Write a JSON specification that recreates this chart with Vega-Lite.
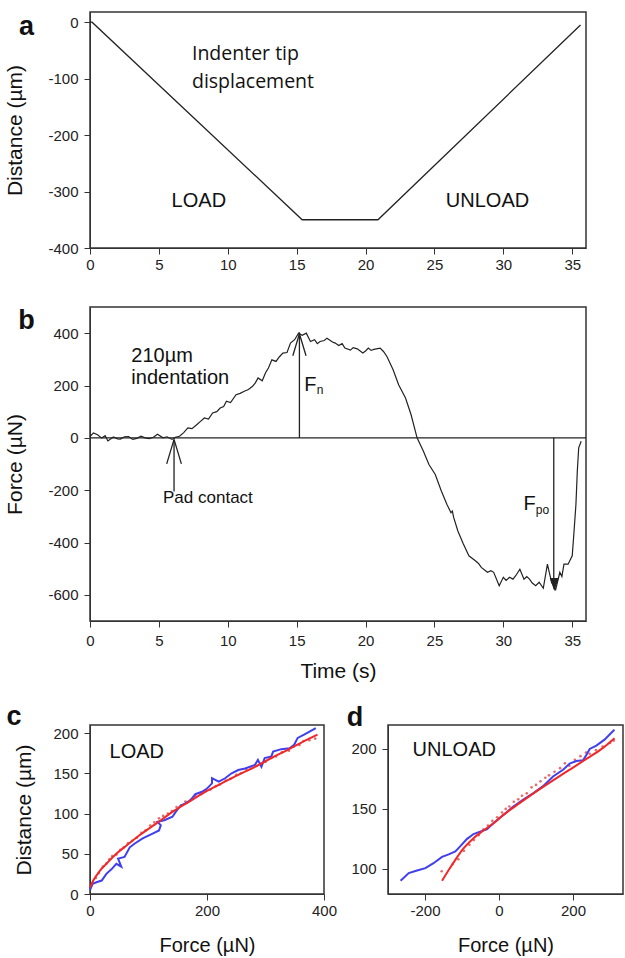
{
  "$schema": "https://vega.github.io/schema/vega-lite/v6.json",
  "background": "white",
  "padding": {"left": 4, "top": 11, "right": 0, "bottom": 0},
  "spacing": 20,
  "vconcat": [
    {
      "spacing": 33,
      "vconcat": [
        {
          "width": 496,
          "height": 236,
          "layer": [
            {
              "data": {"values": [
                {"t": 0, "d": 0}, {"t": 0.15, "d": 0}, {"t": 15.4, "d": -350}, {"t": 20.9, "d": -350}, {"t": 35.6, "d": -5}
              ]},
              "mark": {"type": "line", "color": "#222", "strokeWidth": 1.3},
              "encoding": {
                "x": {"field": "t", "type": "quantitative", "scale": {"domain": [0, 36], "nice": false, "zero": false},
                      "axis": {"values": [0, 5, 10, 15, 20, 25, 30, 35], "title": null, "labelFlush": false, "labelPadding": 3}},
                "y": {"field": "d", "type": "quantitative", "scale": {"domain": [-400, 18], "nice": false, "zero": false},
                      "axis": {"values": [0, -100, -200, -300, -400], "title": "Distance (µm)", "titlePadding": 22}}
              }
            },
            {
              "data": {"values": [{}]},
              "mark": {"type": "text", "align": "left", "baseline": "middle", "fontSize": 19.5, "color": "#111", "font": "Open Sans"},
              "encoding": {"x": {"datum": 7.4}, "y": {"datum": -56}, "text": {"value": "Indenter tip"}}
            },
            {
              "data": {"values": [{}]},
              "mark": {"type": "text", "align": "left", "baseline": "middle", "fontSize": 19.5, "color": "#111", "font": "Open Sans"},
              "encoding": {"x": {"datum": 7.4}, "y": {"datum": -106}, "text": {"value": "displacement"}}
            },
            {
              "data": {"values": [{}]},
              "mark": {"type": "text", "align": "center", "baseline": "middle", "fontSize": 20, "color": "#111", "font": "Liberation Sans"},
              "encoding": {"x": {"datum": 7.9}, "y": {"datum": -316}, "text": {"value": "LOAD"}}
            },
            {
              "data": {"values": [{}]},
              "mark": {"type": "text", "align": "center", "baseline": "middle", "fontSize": 20, "color": "#111", "font": "Liberation Sans"},
              "encoding": {"x": {"datum": 28.85}, "y": {"datum": -316}, "text": {"value": "UNLOAD"}}
            },
            {
              "data": {"values": [{}]},
              "mark": {"type": "text", "align": "center", "baseline": "middle", "fontSize": 27, "fontWeight": "bold", "color": "#111", "font": "Liberation Sans"},
              "encoding": {"x": {"datum": -4.6}, "y": {"datum": -9}, "text": {"value": "a"}}
            }
          ]
        },
        {
          "width": 496,
          "height": 314,
          "layer": [
            {
              "data": {"values": [
                {"t": 0, "f": 5}, {"t": 0.25, "f": 19}, {"t": 0.55, "f": 12}, {"t": 0.85, "f": -1}, {"t": 1.1, "f": 8}, {"t": 1.3, "f": -12},
                {"t": 1.7, "f": 3}, {"t": 2.0, "f": -4}, {"t": 2.2, "f": -5}, {"t": 2.5, "f": 4}, {"t": 2.8, "f": 5}, {"t": 3.1, "f": -6},
                {"t": 3.4, "f": -2}, {"t": 3.7, "f": 6}, {"t": 4.0, "f": 0}, {"t": 4.3, "f": -3}, {"t": 4.6, "f": 2}, {"t": 4.9, "f": 14},
                {"t": 5.3, "f": 0}, {"t": 5.6, "f": 4}, {"t": 5.95, "f": -6}, {"t": 6.2, "f": 2}, {"t": 6.5, "f": 6}, {"t": 6.8, "f": 20},
                {"t": 7.1, "f": 38}, {"t": 7.4, "f": 35}, {"t": 7.7, "f": 48}, {"t": 8.0, "f": 62}, {"t": 8.3, "f": 76}, {"t": 8.6, "f": 72},
                {"t": 8.9, "f": 95}, {"t": 9.2, "f": 100}, {"t": 9.45, "f": 114}, {"t": 9.7, "f": 120}, {"t": 9.9, "f": 140}, {"t": 10.2, "f": 135},
                {"t": 10.6, "f": 165}, {"t": 10.9, "f": 170}, {"t": 11.2, "f": 178}, {"t": 11.5, "f": 185}, {"t": 11.8, "f": 197}, {"t": 12.0, "f": 210},
                {"t": 12.2, "f": 229}, {"t": 12.5, "f": 218}, {"t": 12.75, "f": 250}, {"t": 12.95, "f": 267}, {"t": 13.2, "f": 298}, {"t": 13.5, "f": 292},
                {"t": 13.75, "f": 310}, {"t": 14.0, "f": 324}, {"t": 14.3, "f": 326}, {"t": 14.55, "f": 362}, {"t": 14.85, "f": 375}, {"t": 15.14, "f": 400},
                {"t": 15.4, "f": 392}, {"t": 15.7, "f": 400}, {"t": 16.0, "f": 368}, {"t": 16.3, "f": 375}, {"t": 16.5, "f": 360}, {"t": 16.7, "f": 368},
                {"t": 17.0, "f": 372}, {"t": 17.2, "f": 381}, {"t": 17.6, "f": 366}, {"t": 17.8, "f": 362}, {"t": 18.05, "f": 353}, {"t": 18.3, "f": 360},
                {"t": 18.5, "f": 343}, {"t": 18.9, "f": 335}, {"t": 19.1, "f": 345}, {"t": 19.4, "f": 340}, {"t": 19.8, "f": 324}, {"t": 20.0, "f": 332},
                {"t": 20.2, "f": 343}, {"t": 20.4, "f": 334}, {"t": 20.6, "f": 338}, {"t": 21.06, "f": 343}, {"t": 21.3, "f": 330}, {"t": 21.55, "f": 311},
                {"t": 22.0, "f": 260}, {"t": 22.4, "f": 203}, {"t": 22.9, "f": 152}, {"t": 23.3, "f": 89}, {"t": 23.74, "f": 0}, {"t": 24.2, "f": -51},
                {"t": 24.6, "f": -102}, {"t": 25.06, "f": -140}, {"t": 25.5, "f": -203}, {"t": 25.9, "f": -254}, {"t": 26.2, "f": -286}, {"t": 26.3, "f": -280},
                {"t": 26.4, "f": -305}, {"t": 26.7, "f": -356}, {"t": 27.1, "f": -406}, {"t": 27.5, "f": -451}, {"t": 27.97, "f": -470}, {"t": 28.2, "f": -480},
                {"t": 28.4, "f": -495}, {"t": 28.85, "f": -514}, {"t": 29.1, "f": -508}, {"t": 29.3, "f": -514}, {"t": 29.7, "f": -565}, {"t": 30.0, "f": -533},
                {"t": 30.2, "f": -545}, {"t": 30.45, "f": -533}, {"t": 30.7, "f": -540}, {"t": 30.9, "f": -527}, {"t": 31.2, "f": -502}, {"t": 31.5, "f": -540},
                {"t": 31.7, "f": -530}, {"t": 31.9, "f": -540}, {"t": 32.1, "f": -555}, {"t": 32.35, "f": -565}, {"t": 32.6, "f": -552}, {"t": 32.9, "f": -575},
                {"t": 33.2, "f": -483}, {"t": 33.5, "f": -552}, {"t": 33.8, "f": -580}, {"t": 34.1, "f": -514}, {"t": 34.25, "f": -530}, {"t": 34.4, "f": -483},
                {"t": 34.7, "f": -483}, {"t": 35.0, "f": -451}, {"t": 35.1, "f": -381}, {"t": 35.27, "f": -254}, {"t": 35.37, "f": -127}, {"t": 35.47, "f": -38},
                {"t": 35.65, "f": -13}
              ]},
              "mark": {"type": "line", "color": "#222", "strokeWidth": 1.2},
              "encoding": {
                "x": {"field": "t", "type": "quantitative", "scale": {"domain": [0, 36], "nice": false, "zero": false},
                      "axis": {"values": [0, 5, 10, 15, 20, 25, 30, 35], "title": "Time (s)", "labelFlush": false, "labelPadding": 6, "titlePadding": 12}},
                "y": {"field": "f", "type": "quantitative", "scale": {"domain": [-700, 500], "nice": false, "zero": false},
                      "axis": {"values": [400, 200, 0, -200, -400, -600], "title": "Force (µN)", "titlePadding": 22}}
              }
            },
            {
              "data": {"values": [{}]},
              "mark": {"type": "rule", "color": "#222", "strokeWidth": 1.3},
              "encoding": {"y": {"datum": 0}}
            },
            {
              "data": {"values": [{}]},
              "mark": {"type": "rule", "color": "#222", "strokeWidth": 1.3},
              "encoding": {"x": {"datum": 15.2}, "y": {"datum": 0}, "y2": {"datum": 398}}
            },
            {
              "data": {"values": [{}]},
              "mark": {"type": "rule", "color": "#222", "strokeWidth": 1.3},
              "encoding": {"x": {"datum": 6.1}, "y": {"datum": -205}, "y2": {"datum": -8}}
            },
            {
              "data": {"values": [{}]},
              "mark": {"type": "rule", "color": "#222", "strokeWidth": 1.3},
              "encoding": {"x": {"datum": 33.66}, "y": {"datum": 0}, "y2": {"datum": -576}}
            },
            {
              "data": {"values": [{}]},
              "mark": {"type": "point", "shape": "M-0.3,1L0,0L0.3,1", "filled": false, "stroke": "#222", "strokeWidth": 1.3, "opacity": 1, "size": 1936},
              "encoding": {"x": {"datum": 15.2}, "y": {"datum": 398}}
            },
            {
              "data": {"values": [{}]},
              "mark": {"type": "point", "shape": "M-0.3,1L0,0L0.3,1", "filled": false, "stroke": "#222", "strokeWidth": 1.3, "opacity": 1, "size": 2400},
              "encoding": {"x": {"datum": 6.1}, "y": {"datum": -6}}
            },
            {
              "data": {"values": [{}]},
              "mark": {"type": "point", "shape": "M-0.35,-1L0,0L0.35,-1", "filled": true, "fill": "#222", "stroke": "#222", "strokeWidth": 1.2, "opacity": 1, "size": 500},
              "encoding": {"x": {"datum": 33.7}, "y": {"datum": -578}}
            },
            {
              "data": {"values": [{}]},
              "mark": {"type": "text", "align": "left", "baseline": "middle", "fontSize": 20, "color": "#111", "font": "Liberation Sans"},
              "encoding": {"x": {"datum": 3.0}, "y": {"datum": 311}, "text": {"value": "210µm"}}
            },
            {
              "data": {"values": [{}]},
              "mark": {"type": "text", "align": "left", "baseline": "middle", "fontSize": 20, "color": "#111", "font": "Liberation Sans"},
              "encoding": {"x": {"datum": 3.0}, "y": {"datum": 229}, "text": {"value": "indentation"}}
            },
            {
              "data": {"values": [{}]},
              "mark": {"type": "text", "align": "left", "baseline": "middle", "fontSize": 17, "color": "#111", "font": "Liberation Sans"},
              "encoding": {"x": {"datum": 5.3}, "y": {"datum": -229}, "text": {"value": "Pad contact"}}
            },
            {
              "data": {"values": [{}]},
              "mark": {"type": "text", "align": "left", "baseline": "middle", "fontSize": 20, "color": "#111", "font": "Liberation Sans"},
              "encoding": {"x": {"datum": 15.55}, "y": {"datum": 203}, "text": {"value": "F"}}
            },
            {
              "data": {"values": [{}]},
              "mark": {"type": "text", "align": "left", "baseline": "middle", "fontSize": 12, "color": "#111", "font": "Liberation Sans"},
              "encoding": {"x": {"datum": 16.45}, "y": {"datum": 182}, "text": {"value": "n"}}
            },
            {
              "data": {"values": [{}]},
              "mark": {"type": "text", "align": "left", "baseline": "middle", "fontSize": 20, "color": "#111", "font": "Liberation Sans"},
              "encoding": {"x": {"datum": 31.47}, "y": {"datum": -254}, "text": {"value": "F"}}
            },
            {
              "data": {"values": [{}]},
              "mark": {"type": "text", "align": "left", "baseline": "middle", "fontSize": 12, "color": "#111", "font": "Liberation Sans"},
              "encoding": {"x": {"datum": 32.35}, "y": {"datum": -277}, "text": {"value": "po"}}
            },
            {
              "data": {"values": [{}]},
              "mark": {"type": "text", "align": "center", "baseline": "middle", "fontSize": 27, "fontWeight": "bold", "color": "#111", "font": "Liberation Sans"},
              "encoding": {"x": {"datum": -4.6}, "y": {"datum": 446}, "text": {"value": "b"}}
            }
          ]
        }
      ]
    },
    {
      "spacing": 8,
      "hconcat": [
        {
          "width": 234,
          "height": 169,
          "layer": [
            {
              "data": {"values": [
                {"f": 5, "d": 14}, {"f": 10, "d": 20}, {"f": 15, "d": 26}, {"f": 22, "d": 34}, {"f": 28, "d": 38}, {"f": 33, "d": 43},
                {"f": 38, "d": 47}, {"f": 45, "d": 49}, {"f": 52, "d": 55}, {"f": 58, "d": 58}, {"f": 65, "d": 63}, {"f": 72, "d": 66},
                {"f": 80, "d": 70}, {"f": 88, "d": 76}, {"f": 95, "d": 79}, {"f": 103, "d": 85}, {"f": 110, "d": 89}, {"f": 118, "d": 94},
                {"f": 125, "d": 97}, {"f": 133, "d": 100}, {"f": 140, "d": 103}, {"f": 148, "d": 108}, {"f": 156, "d": 110}, {"f": 163, "d": 115},
                {"f": 172, "d": 117}, {"f": 180, "d": 122}, {"f": 190, "d": 124}, {"f": 198, "d": 128}, {"f": 206, "d": 130}, {"f": 215, "d": 134},
                {"f": 222, "d": 136}, {"f": 232, "d": 141}, {"f": 240, "d": 143}, {"f": 250, "d": 148}, {"f": 258, "d": 150}, {"f": 267, "d": 155},
                {"f": 275, "d": 156}, {"f": 285, "d": 159}, {"f": 292, "d": 162}, {"f": 300, "d": 164}, {"f": 310, "d": 169}, {"f": 318, "d": 171},
                {"f": 328, "d": 176}, {"f": 340, "d": 178}, {"f": 348, "d": 183}, {"f": 358, "d": 185}, {"f": 365, "d": 190}, {"f": 375, "d": 191},
                {"f": 385, "d": 193}
              ]},
              "mark": {"type": "point", "filled": true, "color": "#e86a6a", "size": 7, "opacity": 1},
              "encoding": {
                "x": {"field": "f", "type": "quantitative", "scale": {"domain": [0, 400], "nice": false, "zero": false},
                      "axis": {"values": [0, 200, 400], "title": "Force (µN)", "labelFlush": false, "labelPadding": 3, "titlePadding": 17, "titleFontSize": 20}},
                "y": {"field": "d", "type": "quantitative", "scale": {"domain": [0, 210], "nice": false, "zero": false},
                      "axis": {"values": [0, 50, 100, 150, 200], "title": "Distance (µm)", "titlePadding": 18}}
              }
            },
            {
              "data": {"values": [
                {"i": 0, "f": 0, "d": 5}, {"i": 1, "f": 4.5, "d": 12.5}, {"i": 2, "f": 11, "d": 14.6}, {"i": 3, "f": 20, "d": 16.7},
                {"i": 4, "f": 28, "d": 25}, {"i": 5, "f": 37, "d": 31}, {"i": 6, "f": 45, "d": 37.5}, {"i": 7, "f": 53.5, "d": 34},
                {"i": 8, "f": 48, "d": 44}, {"i": 9, "f": 59, "d": 46}, {"i": 10, "f": 68, "d": 58}, {"i": 11, "f": 76, "d": 62.5},
                {"i": 12, "f": 90, "d": 69}, {"i": 13, "f": 107, "d": 75}, {"i": 14, "f": 118, "d": 79}, {"i": 15, "f": 121, "d": 85.4},
                {"i": 16, "f": 115.5, "d": 89.6}, {"i": 17, "f": 127, "d": 91.7}, {"i": 18, "f": 141, "d": 96}, {"i": 19, "f": 146.5, "d": 102},
                {"i": 20, "f": 155, "d": 110}, {"i": 21, "f": 163, "d": 112.5}, {"i": 22, "f": 172, "d": 116.7}, {"i": 23, "f": 180, "d": 124},
                {"i": 24, "f": 191.5, "d": 127}, {"i": 25, "f": 200, "d": 131}, {"i": 26, "f": 208.5, "d": 137.5}, {"i": 27, "f": 208.5, "d": 144},
                {"i": 28, "f": 220, "d": 139.6}, {"i": 29, "f": 231, "d": 143.8}, {"i": 30, "f": 242, "d": 150}, {"i": 31, "f": 253.5, "d": 154},
                {"i": 32, "f": 265, "d": 156}, {"i": 33, "f": 282, "d": 160.4}, {"i": 34, "f": 287, "d": 166.7}, {"i": 35, "f": 293, "d": 158},
                {"i": 36, "f": 298.6, "d": 168.8}, {"i": 37, "f": 310, "d": 171}, {"i": 38, "f": 313, "d": 177}, {"i": 39, "f": 327, "d": 180},
                {"i": 40, "f": 341, "d": 181}, {"i": 41, "f": 349, "d": 185.4}, {"i": 42, "f": 355, "d": 194}, {"i": 43, "f": 366, "d": 198},
                {"i": 44, "f": 386, "d": 206}
              ]},
              "mark": {"type": "line", "color": "#3f3ff0", "strokeWidth": 2},
              "encoding": {
                "x": {"field": "f", "type": "quantitative"},
                "y": {"field": "d", "type": "quantitative"},
                "order": {"field": "i", "type": "quantitative"}
              }
            },
            {
              "data": {"values": [
                {"f": 0, "d": 8}, {"f": 5.6, "d": 16.7}, {"f": 17, "d": 29}, {"f": 28, "d": 37.5}, {"f": 45, "d": 50}, {"f": 62, "d": 60},
                {"f": 84.5, "d": 73}, {"f": 113, "d": 87.5}, {"f": 141, "d": 102}, {"f": 169, "d": 114.6}, {"f": 197, "d": 127}, {"f": 225, "d": 137.5},
                {"f": 253.5, "d": 148}, {"f": 282, "d": 158}, {"f": 310, "d": 169}, {"f": 338, "d": 179}, {"f": 366, "d": 190}, {"f": 389, "d": 198}
              ]},
              "mark": {"type": "line", "color": "#f02828", "strokeWidth": 2, "interpolate": "monotone"},
              "encoding": {
                "x": {"field": "f", "type": "quantitative"},
                "y": {"field": "d", "type": "quantitative"}
              }
            },
            {
              "data": {"values": [{}]},
              "mark": {"type": "text", "align": "center", "baseline": "middle", "fontSize": 20, "color": "#111", "font": "Liberation Sans"},
              "encoding": {"x": {"datum": 80}, "y": {"datum": 177}, "text": {"value": "LOAD"}}
            },
            {
              "data": {"values": [{}]},
              "mark": {"type": "text", "align": "center", "baseline": "middle", "fontSize": 27, "fontWeight": "bold", "color": "#111", "font": "Liberation Sans"},
              "encoding": {"x": {"datum": -130}, "y": {"datum": 220}, "text": {"value": "c"}}
            }
          ]
        },
        {
          "width": 235,
          "height": 169,
          "layer": [
            {
              "data": {"values": [
                {"f": -155, "d": 98}, {"f": -125, "d": 104}, {"f": -110, "d": 108}, {"f": -95, "d": 115}, {"f": -80, "d": 120}, {"f": -68, "d": 124},
                {"f": -55, "d": 128}, {"f": -42, "d": 133}, {"f": -30, "d": 136}, {"f": -18, "d": 140}, {"f": -5, "d": 143}, {"f": 8, "d": 147},
                {"f": 18, "d": 150}, {"f": 28, "d": 152}, {"f": 40, "d": 156}, {"f": 52, "d": 158}, {"f": 62, "d": 161}, {"f": 75, "d": 163},
                {"f": 88, "d": 168}, {"f": 100, "d": 170}, {"f": 112, "d": 173}, {"f": 125, "d": 176}, {"f": 135, "d": 178}, {"f": 150, "d": 181},
                {"f": 165, "d": 184}, {"f": 178, "d": 188}, {"f": 190, "d": 186}, {"f": 205, "d": 191}, {"f": 220, "d": 194}, {"f": 235, "d": 197},
                {"f": 245, "d": 196}, {"f": 262, "d": 199}, {"f": 280, "d": 202}, {"f": 300, "d": 205}, {"f": 310, "d": 207}
              ]},
              "mark": {"type": "point", "filled": true, "color": "#e86a6a", "size": 7, "opacity": 1},
              "encoding": {
                "x": {"field": "f", "type": "quantitative", "scale": {"domain": [-300, 335], "nice": false, "zero": false},
                      "axis": {"values": [-200, 0, 200], "title": "Force (µN)", "labelFlush": false, "labelPadding": 3, "titlePadding": 17, "titleFontSize": 20}},
                "y": {"field": "d", "type": "quantitative", "scale": {"domain": [79, 220], "nice": false, "zero": false},
                      "axis": {"values": [100, 150, 200], "title": null}}
              }
            },
            {
              "data": {"values": [
                {"i": 0, "f": -266, "d": 90}, {"i": 1, "f": -244, "d": 96.4}, {"i": 2, "f": -221.5, "d": 98.6}, {"i": 3, "f": -199, "d": 100.6},
                {"i": 4, "f": -177, "d": 104.7}, {"i": 5, "f": -154, "d": 110}, {"i": 6, "f": -136, "d": 112}, {"i": 7, "f": -118, "d": 114.5},
                {"i": 8, "f": -105, "d": 118.7}, {"i": 9, "f": -87, "d": 124.8}, {"i": 10, "f": -69, "d": 129}, {"i": 11, "f": -51, "d": 131},
                {"i": 12, "f": -33, "d": 133}, {"i": 13, "f": -15, "d": 138}, {"i": 14, "f": 0, "d": 142}, {"i": 15, "f": 16, "d": 146},
                {"i": 16, "f": 38.6, "d": 152}, {"i": 17, "f": 65.5, "d": 157.7}, {"i": 18, "f": 92, "d": 163}, {"i": 19, "f": 119, "d": 169},
                {"i": 20, "f": 146, "d": 177}, {"i": 21, "f": 173, "d": 182.7}, {"i": 22, "f": 191, "d": 187.8}, {"i": 23, "f": 209, "d": 190},
                {"i": 24, "f": 227, "d": 190.5}, {"i": 25, "f": 236, "d": 195}, {"i": 26, "f": 245, "d": 200}, {"i": 27, "f": 263, "d": 202.8},
                {"i": 28, "f": 285, "d": 207.8}, {"i": 29, "f": 307.6, "d": 214.8}, {"i": 30, "f": 312, "d": 216}
              ]},
              "mark": {"type": "line", "color": "#3f3ff0", "strokeWidth": 2},
              "encoding": {
                "x": {"field": "f", "type": "quantitative"},
                "y": {"field": "d", "type": "quantitative"},
                "order": {"field": "i", "type": "quantitative"}
              }
            },
            {
              "data": {"values": [
                {"f": -154, "d": 90}, {"f": -136, "d": 99}, {"f": -118, "d": 107.5}, {"f": -96, "d": 117}, {"f": -69, "d": 125.6}, {"f": -42, "d": 132},
                {"f": -15, "d": 138}, {"f": 11.7, "d": 145}, {"f": 56.5, "d": 155}, {"f": 101, "d": 164.6}, {"f": 146, "d": 173.8}, {"f": 191, "d": 182.7},
                {"f": 236, "d": 191.7}, {"f": 281, "d": 200.9}, {"f": 312, "d": 209}
              ]},
              "mark": {"type": "line", "color": "#f02828", "strokeWidth": 2, "interpolate": "monotone"},
              "encoding": {
                "x": {"field": "f", "type": "quantitative"},
                "y": {"field": "d", "type": "quantitative"}
              }
            },
            {
              "data": {"values": [{}]},
              "mark": {"type": "text", "align": "center", "baseline": "middle", "fontSize": 20, "color": "#111", "font": "Liberation Sans"},
              "encoding": {"x": {"datum": -121}, "y": {"datum": 199.5}, "text": {"value": "UNLOAD"}}
            },
            {
              "data": {"values": [{}]},
              "mark": {"type": "text", "align": "center", "baseline": "middle", "fontSize": 27, "fontWeight": "bold", "color": "#111", "font": "Liberation Sans"},
              "encoding": {"x": {"datum": -389}, "y": {"datum": 226}, "text": {"value": "d"}}
            }
          ]
        }
      ]
    }
  ],
  "config": {
    "font": "Liberation Sans",
    "locale": {"number": {"decimal": ".", "thousands": ",", "grouping": [3], "currency": ["$", ""], "minus": "-"}},
    "view": {"stroke": "#333", "strokeWidth": 1.5},
    "axis": {
      "labelFont": "Liberation Sans", "labelFontSize": 15, "labelColor": "#222",
      "titleFont": "Liberation Sans", "titleFontSize": 21, "titleFontWeight": "normal", "titleColor": "#111",
      "tickColor": "#333", "tickSize": 6, "labelPadding": 6, "domainColor": "#333", "grid": false
    }
  }
}
